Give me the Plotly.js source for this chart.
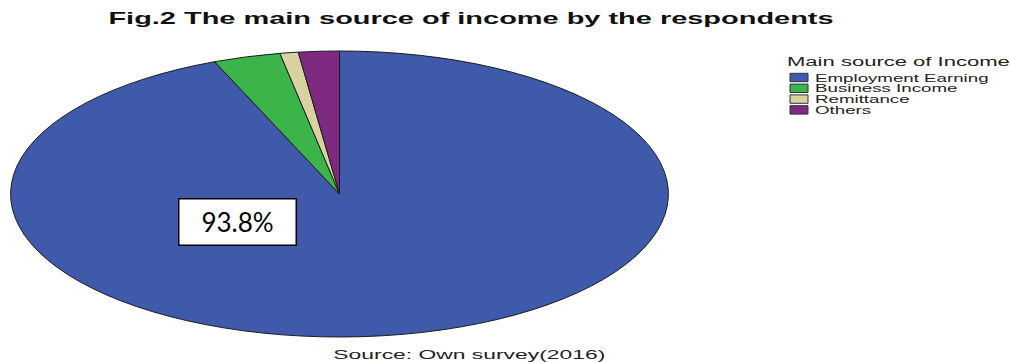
<!DOCTYPE html>
<html><head><meta charset="utf-8">
<script src="https://cdn.plot.ly/plotly-3.0.1.min.js"></script>
<style>
html,body{margin:0;padding:0;background:#fff;}
#chart{width:1010px;height:362px;}
.pielayer{transform-origin:339.5px 194px; transform:scaleX(2.3);}
.pielayer path{vector-effect:non-scaling-stroke;}
</style></head><body><div id="chart"></div>
<script>
// ---- data ----
const categories = ['Employment Earning', 'Business Income', 'Remittance', 'Others'];
const percentages = [93.8, 3.3, 0.9, 2.0];
const sliceColors = ['#3f59ab', '#3bb54a', '#d8d2a0', '#7d2a80'];
const chartTitle = 'Fig.2 The main source of income by the respondents';
const legendTitle = 'Main source of Income';
const sourceNote = 'Source: Own survey(2016)';
const calloutLabel = percentages[0].toFixed(1) + '%';

// ---- layout constants (pixels) ----
const W = 1010, H = 362;
const cx = 339.5, cy = 194, ry = 143;
const px = v => v / W, py = v => 1 - v / H;

const legendX = 790, legendTextX = 814, legendTop = 77.5, legendStep = 10.8;

const annotations = [];
const stretchJobs = [];

// legend title
stretchJobs.push({idx: annotations.length, target: 223, origin: '0% 50%'});
annotations.push({text: legendTitle, xref: 'paper', yref: 'paper', x: px(785), y: py(61.5),
  xanchor: 'left', yanchor: 'middle', showarrow: false,
  font: {family: 'Liberation Sans, Arial, sans-serif', size: 12.5, color: '#222'}});

const shapes = [];
categories.forEach((c, i) => {
  const yc = legendTop + i * legendStep;
  stretchJobs.push({idx: annotations.length, scaleFrom: 0, target: 174, origin: '0% 50%'});
  annotations.push({text: c, xref: 'paper', yref: 'paper', x: px(legendTextX), y: py(yc),
    xanchor: 'left', yanchor: 'middle', showarrow: false, borderpad: 0,
    font: {family: 'Liberation Sans, Arial, sans-serif', size: 10.5, color: '#222'}});
  shapes.push({type: 'rect', xref: 'paper', yref: 'paper', x0: px(legendX), x1: px(legendX + 18),
    y0: py(yc - 4.2), y1: py(yc + 4.2), fillcolor: sliceColors[i], line: {color: '#333', width: 1}});
});

// source note
stretchJobs.push({idx: annotations.length, target: 272, origin: '50% 50%'});
annotations.push({text: sourceNote, xref: 'paper', yref: 'paper', x: px(469), y: py(354.5),
  xanchor: 'center', yanchor: 'middle', showarrow: false,
  font: {family: 'Liberation Sans, Arial, sans-serif', size: 13, color: '#222'}});

// callout box
annotations.push({text: calloutLabel, xref: 'paper', yref: 'paper', x: px(237.5), y: py(221.5),
  xanchor: 'center', yanchor: 'middle', showarrow: false, width: 116, height: 45,
  bgcolor: '#ffffff', bordercolor: '#000000', borderwidth: 1.5, borderpad: 0,
  font: {family: 'Lato, Open Sans, sans-serif', size: 26, color: '#000'}});

const data = [{
  type: 'pie', values: percentages, labels: categories, sort: false,
  direction: 'clockwise', rotation: 0, textinfo: 'none', hoverinfo: 'skip', showlegend: false,
  marker: {colors: sliceColors, line: {color: '#1c1c1c', width: 1}},
  domain: {x: [px(cx - ry), px(cx + ry)], y: [(H - cy - ry) / H, (H - cy + ry) / H]}
}];

const layout = {
  width: W, height: H, margin: {l: 0, r: 0, t: 0, b: 0},
  paper_bgcolor: '#ffffff', plot_bgcolor: '#ffffff', showlegend: false,
  title: {text: '<b>' + chartTitle + '</b>', x: px(471), xanchor: 'center', y: py(18.5), yanchor: 'middle',
    font: {family: 'Liberation Sans, Arial, sans-serif', size: 16, color: '#111'}},
  annotations: annotations, shapes: shapes
};

function stretch(el, scale, origin) {
  el.style.transformBox = 'fill-box';
  el.style.transformOrigin = origin;
  el.style.transform = 'scaleX(' + scale + ')';
}

Plotly.newPlot('chart', data, layout, {staticPlot: true, displayModeBar: false}).then(gd => {
  const t = gd.querySelector('.gtitle');
  if (t) stretch(t, 726 / t.getBBox().width, '50% 50%');
  const getText = i => gd.querySelector('.annotation[data-index="' + i + '"] .annotation-text');
  let itemScale = null;
  stretchJobs.forEach(job => {
    const el = getText(job.idx);
    if (!el) return;
    let s;
    if (job.scaleFrom !== undefined) {
      if (itemScale === null) itemScale = job.target / el.getBBox().width;
      s = itemScale;
    } else s = job.target / el.getBBox().width;
    stretch(el, s, job.origin);
  });
});
</script></body></html>
